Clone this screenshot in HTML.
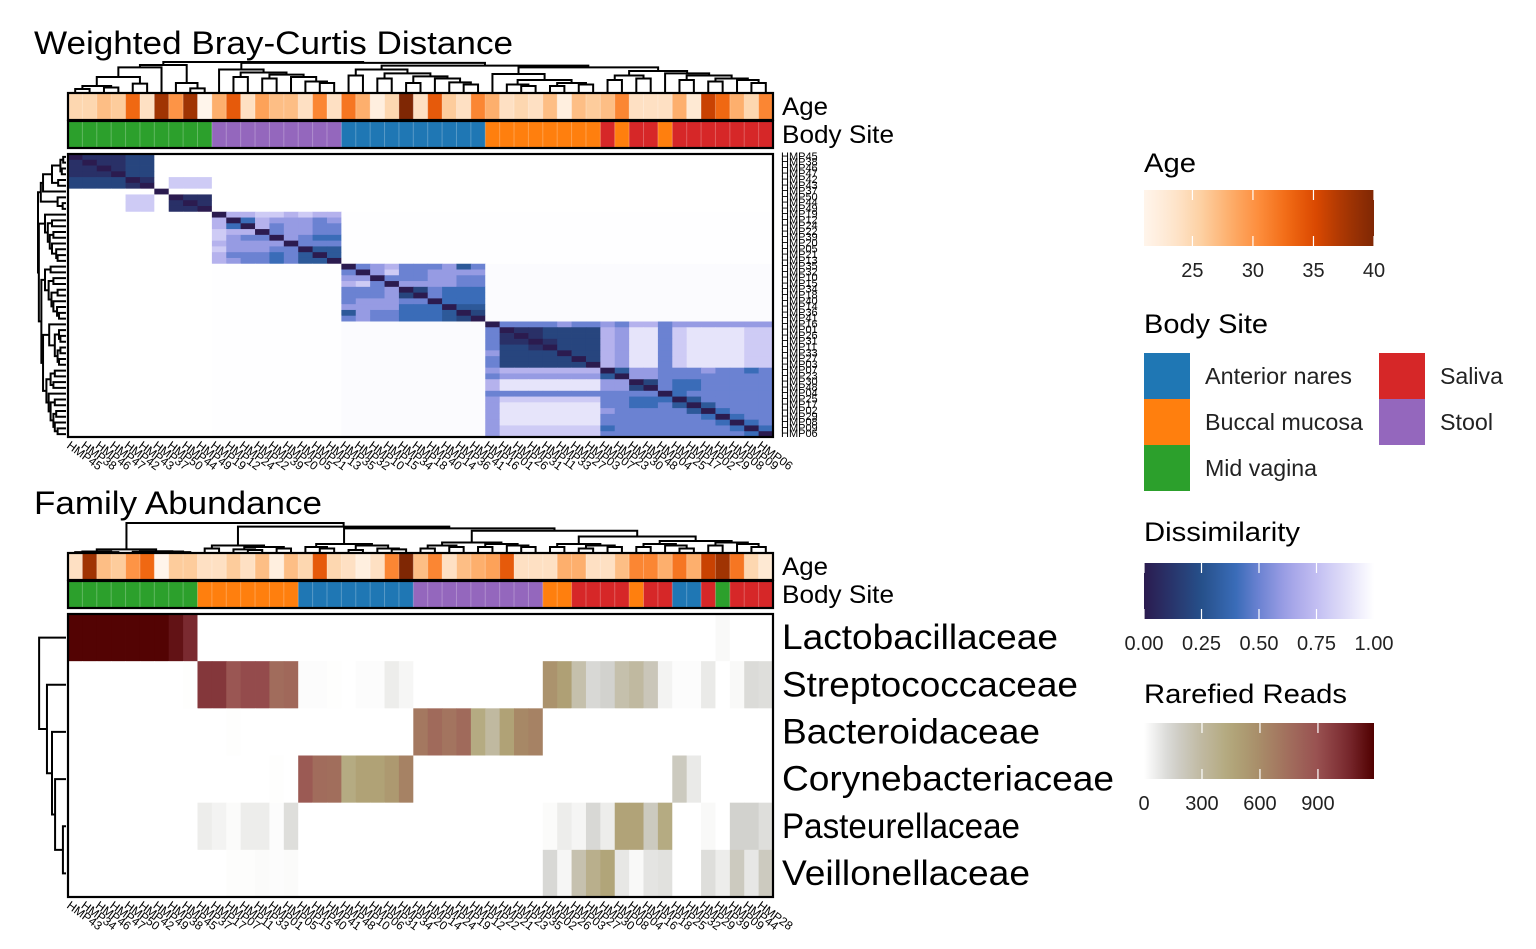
<!DOCTYPE html>
<html><head><meta charset="utf-8"><title>Heatmaps</title>
<style>
html,body{margin:0;padding:0;background:#fff;}
svg{display:block;font-family:"Liberation Sans",Arial,sans-serif;}
</style></head>
<body>
<svg id="chart" width="1536" height="949" viewBox="0 0 1536 949" xmlns="http://www.w3.org/2000/svg">
<rect x="0" y="0" width="1536" height="949" fill="#fff"/>
<text x="34" y="54" font-size="32" textLength="479" lengthAdjust="spacingAndGlyphs">Weighted Bray-Curtis Distance</text>
<text x="34" y="514" font-size="32" textLength="288" lengthAdjust="spacingAndGlyphs">Family Abundance</text>
<g id="top"></g><g id="bottom"></g><g id="legend"></g>
</svg>
<script>
// ---------- DATA ----------
const topSamples = ["HMP45","HMP38","HMP46","HMP47","HMP42","HMP43","HMP37","HMP50","HMP44","HMP49","HMP19","HMP12","HMP24","HMP22","HMP39","HMP20","HMP05","HMP21","HMP13","HMP35","HMP32","HMP10","HMP15","HMP34","HMP18","HMP40","HMP14","HMP36","HMP41","HMP16","HMP01","HMP26","HMP31","HMP11","HMP33","HMP27","HMP03","HMP07","HMP23","HMP30","HMP48","HMP04","HMP25","HMP17","HMP02","HMP29","HMP08","HMP09","HMP06"];
const topSites = "VVVVVVVVVV"+"SSSSSSSSS"+"NNNNNNNNNN"+"OOOOOOOO"+"RORRO"+"RRRRRRR";
const topAges = [25,25,27,26,33,24,38,30,38,21, 28,34,24,29,27,27,24,31,24, 32,28,22,25,40,24,34,26,24,31, 28,24,25,24,27,22,27,26, 27,31,24,24,24,28,23,36,33,28,25,31];
// dissimilarity levels: digit d -> d/10, v -> 0.985, w -> 0.995, x -> 1.0
const distRows = [
"011122xxxx"+"xxxxxxxxx"+"xxxxxxxxxx"+"xxxxxxxxxxxxxxxxxxxx",
"101122xxxx"+"xxxxxxxxx"+"xxxxxxxxxx"+"xxxxxxxxxxxxxxxxxxxx",
"110122xxxx"+"xxxxxxxxx"+"xxxxxxxxxx"+"xxxxxxxxxxxxxxxxxxxx",
"111022xxxx"+"xxxxxxxxx"+"xxxxxxxxxx"+"xxxxxxxxxxxxxxxxxxxx",
"222201x888"+"xxxxxxxxx"+"xxxxxxxxxx"+"xxxxxxxxxxxxxxxxxxxx",
"222210x888"+"xxxxxxxxx"+"xxxxxxxxxx"+"xxxxxxxxxxxxxxxxxxxx",
"xxxxxx0xxx"+"xxxxxxxxx"+"xxxxxxxxxx"+"xxxxxxxxxxxxxxxxxxxx",
"xxxx88x011"+"xxxxxxxxx"+"xxxxxxxxxx"+"xxxxxxxxxxxxxxxxxxxx",
"xxxx88x101"+"xxxxxxxxx"+"xxxxxxxxxx"+"xxxxxxxxxxxxxxxxxxxx",
"xxxx88x110"+"xxxxxxxxx"+"xxxxxxxxxx"+"xxxxxxxxxxxxxxxxxxxx",
"xxxxxxxxxx"+"077887877"+"wwwwwwwwww"+"wwwwwwwwwwwwwwwwwwww",
"xxxxxxxxxx"+"704766656"+"wwwwwwwwww"+"wwwwwwwwwwwwwwwwwwww",
"xxxxxxxxxx"+"740756655"+"wwwwwwwwww"+"wwwwwwwwwwwwwwwwwwww",
"xxxxxxxxxx"+"877056655"+"wwwwwwwwww"+"wwwwwwwwwwwwwwwwwwww",
"xxxxxxxxxx"+"865506544"+"wwwwwwwwww"+"wwwwwwwwwwwwwwwwwwww",
"xxxxxxxxxx"+"766660555"+"wwwwwwwwww"+"wwwwwwwwwwwwwwwwwwww",
"xxxxxxxxxx"+"866655033"+"wwwwwwwwww"+"wwwwwwwwwwwwwwwwwwww",
"xxxxxxxxxx"+"755545303"+"wwwwwwwwww"+"wwwwwwwwwwwwwwwwwwww",
"xxxxxxxxxx"+"765545330"+"wwwwwwwwww"+"wwwwwwwwwwwwwwwwwwww",
"xxxxxxxxxx"+"wwwwwwwww"+"0567555635"+"vvvvvvvvvvvvvvvvvvvv",
"xxxxxxxxxx"+"wwwwwwwww"+"5068556666"+"vvvvvvvvvvvvvvvvvvvv",
"xxxxxxxxxx"+"wwwwwwwww"+"6605556655"+"vvvvvvvvvvvvvvvvvvvv",
"xxxxxxxxxx"+"wwwwwwwww"+"7850666655"+"vvvvvvvvvvvvvvvvvvvv",
"xxxxxxxxxx"+"wwwwwwwww"+"5556025444"+"vvvvvvvvvvvvvvvvvvvv",
"xxxxxxxxxx"+"wwwwwwwww"+"5556205444"+"vvvvvvvvvvvvvvvvvvvv",
"xxxxxxxxxx"+"wwwwwwwww"+"5666550444"+"vvvvvvvvvvvvvvvvvvvv",
"xxxxxxxxxx"+"wwwwwwwww"+"6666444033"+"vvvvvvvvvvvvvvvvvvvv",
"xxxxxxxxxx"+"wwwwwwwww"+"3655444302"+"vvvvvvvvvvvvvvvvvvvv",
"xxxxxxxxxx"+"wwwwwwwww"+"5655444320"+"vvvvvvvvvvvvvvvvvvvv",
"xxxxxxxxxx"+"wwwwwwwww"+"vvvvvvvvvv"+"05555655657756666666",
"xxxxxxxxxx"+"wwwwwwwww"+"vvvvvvvvvv"+"50112222769958999988",
"xxxxxxxxxx"+"wwwwwwwww"+"vvvvvvvvvv"+"51012222769958999988",
"xxxxxxxxxx"+"wwwwwwwww"+"vvvvvvvvvv"+"51101222769958999988",
"xxxxxxxxxx"+"wwwwwwwww"+"vvvvvvvvvv"+"52210222769958999988",
"xxxxxxxxxx"+"wwwwwwwww"+"vvvvvvvvvv"+"62222022769958999988",
"xxxxxxxxxx"+"wwwwwwwww"+"vvvvvvvvvv"+"52222202769958999988",
"xxxxxxxxxx"+"wwwwwwwww"+"vvvvvvvvvv"+"52222220769958999988",
"xxxxxxxxxx"+"wwwwwwwww"+"vvvvvvvvvv"+"67777777036655565545",
"xxxxxxxxxx"+"wwwwwwwww"+"vvvvvvvvvv"+"56666666306655555555",
"xxxxxxxxxx"+"wwwwwwwww"+"vvvvvvvvvv"+"79999999660254455555",
"xxxxxxxxxx"+"wwwwwwwww"+"vvvvvvvvvv"+"79999999662054455555",
"xxxxxxxxxx"+"wwwwwwwww"+"vvvvvvvvvv"+"55555555555504555555",
"xxxxxxxxxx"+"wwwwwwwww"+"vvvvvvvvvv"+"68888888554440355555",
"xxxxxxxxxx"+"wwwwwwwww"+"vvvvvvvvvv"+"69999999554453035555",
"xxxxxxxxxx"+"wwwwwwwww"+"vvvvvvvvvv"+"69999999655555304555",
"xxxxxxxxxx"+"wwwwwwwww"+"vvvvvvvvvv"+"69999999555555540455",
"xxxxxxxxxx"+"wwwwwwwww"+"vvvvvvvvvv"+"69999999555555554045",
"xxxxxxxxxx"+"wwwwwwwww"+"vvvvvvvvvv"+"68888888455555555404",
"xxxxxxxxxx"+"wwwwwwwww"+"vvvvvvvvvv"+"68888888555555555540"];
const topTree = [1.0,
  [0.9,[0.82,[0.5,[0.2,[0.1,0,1],[0.15,2,3]],[0.28,4,5]],6],[0.3,7,[0.12,8,9]]],
  [0.97,
    [0.75,10,[0.65,[0.5,11,12],[0.58,[0.45,13,14],[0.5,15,[0.35,16,[0.3,17,18]]]]]],
    [0.88,
      [0.75,[0.55,19,20],[0.62,[0.45,21,22],[0.52,[0.3,23,24],[0.45,25,[0.32,26,[0.25,27,28]]]]]],
      [0.82,[0.6,29,[0.4,[0.25,30,[0.2,31,32]],[0.3,[0.2,33,34],[0.25,35,36]]]],
            [0.7,[0.55,[0.4,37,38],[0.45,39,40]],[0.62,41,[0.55,[0.4,42,43],[0.45,[0.35,44,45],[0.4,46,[0.3,47,48]]]]]]]]]];

const botSamples = ["HMP43","HMP34","HMP46","HMP47","HMP50","HMP42","HMP49","HMP38","HMP45","HMP37","HMP17","HMP07","HMP11","HMP33","HMP01","HMP05","HMP15","HMP40","HMP41","HMP48","HMP10","HMP06","HMP31","HMP34","HMP20","HMP14","HMP24","HMP19","HMP12","HMP22","HMP21","HMP23","HMP35","HMP02","HMP26","HMP03","HMP27","HMP30","HMP08","HMP04","HMP16","HMP18","HMP25","HMP32","HMP29","HMP39","HMP09","HMP44","HMP28"];
const botSites = "VVVVVVVVVOOOOOOONNNNNNNNSSSSSSSSSOORRRRORRNNRVRRR";
const botAges = [24,38,27,26,30,33,21,26,26, 24,24,26,24,27,22,27, 25,34,25,24,22,24,31,40, 27,31,24,27,28,29,34,24,24, 24,28,28,24,24,27,31,31,28,32,28,36,38,32,25,23];
const families = ["Lactobacillaceae","Streptococcaceae","Bacteroidaceae","Corynebacteriaceae","Pasteurellaceae","Veillonellaceae"];
const lacto = [1180,1180,1180,1180,1180,1180,1180,1130,1050, 0,0,0,0,0,0,0, 0,0,0,0,0,0,0,0, 0,0,0,0,0,0,0,0,0, 0,0,0,0,0,0,0,0,0,0,0,0,20,0,0,0];
const strep = [0,0,0,0,0,0,0,0,5, 1000,1000,870,920,920,760,780, 10,10,5,0,10,10,60,30, 0,0,0,0,0,0,0,0,0, 560,490,260,130,150,260,300,220,40,10,10,70,0,20,120,110];
const bact  = [0,0,0,0,0,0,0,0,0, 0,0,5,0,0,0,0, 0,0,0,0,0,0,0,0, 700,770,720,770,420,300,480,620,650, 0,0,0,0,0,0,0,0,0,0,0,0,0,0,0,0];
const cory  = [0,0,0,0,0,0,0,0,0, 0,0,0,0,0,5,0, 850,760,750,420,480,480,530,650, 0,0,0,0,0,0,0,0,0, 0,0,0,0,0,0,0,0,0,200,70,0,0,0,0,0];
const past  = [0,0,0,0,0,0,0,0,0, 60,40,15,60,60,10,110, 0,0,0,0,0,0,0,0, 0,0,0,0,0,0,0,0,0, 15,60,35,130,60,470,470,200,420,0,0,20,0,150,150,110];
const veill = [0,0,0,0,0,0,0,0,0, 0,0,8,8,15,10,15, 0,0,0,0,0,0,0,0, 0,0,0,0,0,0,0,0,0, 130,30,250,380,460,80,20,90,100,0,0,110,60,200,80,200];
const botTree = [1.0,
  [0.12,[0.05,[0.03,0,1],[0.03,2,3]],[0.06,[0.04,4,5],[0.05,6,[0.03,7,8]]]],
  [0.88,[0.25,[0.15,9,10],[0.2,[0.12,11,[0.1,12,13]],[0.15,14,15]]],
    [0.82,[0.3,[0.2,16,[0.15,17,18]],[0.25,[0.1,19,20],[0.15,21,[0.12,22,23]]]],
      [0.74,[0.35,[0.25,[0.15,24,25],[0.2,26,27]],[0.3,[0.2,28,29],[0.25,30,[0.2,31,32]]]],
        [0.55,[0.3,[0.2,33,34],[0.25,[0.15,35,36],[0.2,37,38]]],[0.4,[0.3,[0.2,39,40],[0.25,41,[0.15,42,43]]],[0.35,[0.25,44,45],[0.3,46,[0.2,47,48]]]]]]]]];
const rowTree = [0.96,0,[0.68,1,[0.5,2,[0.39,3,[0.11,4,5]]]]];
const ageTicks = [25,30,35,40];
const dissTicks = ["0.00","0.25","0.50","0.75","1.00"];
const readTicks = [0,300,600,900];

// ---------- helpers ----------
const NS="http://www.w3.org/2000/svg";
function mk(tag,attrs,parent){const e=document.createElementNS(NS,tag);for(const k in attrs)e.setAttribute(k,attrs[k]);parent.appendChild(e);return e;}
function hex(h){return [parseInt(h.substr(1,2),16),parseInt(h.substr(3,2),16),parseInt(h.substr(5,2),16)];}
function ramp(stops){return v=>{if(v<=stops[0][0])return stops[0][1];for(let i=1;i<stops.length;i++){if(v<=stops[i][0]){const a=stops[i-1],b=stops[i];const t=(v-a[0])/(b[0]-a[0]);const c1=hex(a[1]),c2=hex(b[1]);return "rgb("+c1.map((c,j)=>Math.round(c+(c2[j]-c)*t)).join(",")+")";}}return stops[stops.length-1][1];};}
const ageColor=ramp([[21,"#fff5eb"],[23.4,"#fee6ce"],[25.75,"#fdd0a2"],[28.1,"#fdae6b"],[30.5,"#fd8d3c"],[32.9,"#f16913"],[35.25,"#d94801"],[37.6,"#a63603"],[40,"#7f2704"]]);
const dissColor=ramp([[0,"#2b1b4f"],[0.25,"#26508a"],[0.4,"#3a6cb8"],[0.5,"#6b82d2"],[0.62,"#9fa0e6"],[0.75,"#c2bef2"],[0.9,"#e6e4fa"],[1,"#ffffff"]]);
const readColor=ramp([[0,"#ffffff"],[150,"#d2d2ce"],[300,"#c0b9a0"],[450,"#b2a77a"],[600,"#a88c68"],[780,"#a0685a"],[900,"#985050"],[1050,"#7a2a30"],[1190,"#500000"]]);
const siteColor={N:"#1F77B4",O:"#FF7F0E",V:"#2CA02C",R:"#D62728",S:"#9467BD"};
function lvl(c){return c==="x"?1:c==="w"?0.995:c==="v"?0.985:(+c)/10;}

function dendro(node,g,posOf,hy,name){
  if(typeof node==="number")return [posOf(node),0];
  const a=dendro(node[1],g,posOf,hy,name),b=dendro(node[2],g,posOf,hy,name);
  const h=node[0];
  const p=hy(a[0],a[1],b[0],b[1],h);
  const path=mk("path",{d:p,fill:"none",stroke:"#000","stroke-width":2},g);
  
  
  return [(a[0]+b[0])/2,h];
}

const X0=68,X1=773,N=49,CW=(X1-X0)/N;
const colX=i=>X0+i*CW;

function panel(gid,o){
  const g=document.getElementById(gid);
  const dg=mk("g",{},g);
  const yL=o.dTop+30,yS=30;
  const Y=h=>yL-h*yS;
  dendro(o.tree,dg,i=>colX(i)+CW/2,(x1,h1,x2,h2,h)=>`M${x1},${Y(h1)}V${Y(h)}H${x2}V${Y(h2)}`,'dendrogram-branch');
  const ag=mk("g",{},g);
  o.ages.forEach((a,i)=>{const r=mk("rect",{x:colX(i),y:o.ageY,width:CW+0.4,height:27,fill:ageColor(a)},ag);
    });
  const sg=mk("g",{},g);
  o.sites.split("").forEach((s,i)=>{const r=mk("rect",{x:colX(i),y:o.ageY+28,width:CW+0.4,height:27,fill:siteColor[s]},sg);
    });
  for(let i=1;i<N;i++){mk("line",{x1:colX(i),x2:colX(i),y1:o.ageY,y2:o.ageY+55,stroke:"#fff","stroke-opacity":0.25,"stroke-width":1},g);}
  mk("rect",{x:X0,y:o.ageY,width:X1-X0,height:27,fill:"none",stroke:"#000","stroke-width":2.2},g);
  mk("rect",{x:X0,y:o.ageY+28,width:X1-X0,height:27,fill:"none",stroke:"#000","stroke-width":2.2},g);
  let t=mk("text",{x:782,y:o.ageY+22,"font-size":25,textLength:46,lengthAdjust:"spacingAndGlyphs"},g);t.textContent="Age";
  
  t=mk("text",{x:782,y:o.ageY+50,"font-size":25,textLength:112,lengthAdjust:"spacingAndGlyphs"},g);t.textContent="Body Site";
  
  const hg=mk("g",{},g);
  const RH=(o.hY1-o.hY0)/o.nRows;
  for(let r=0;r<o.nRows;r++)for(let c=0;c<N;c++){
    const rc=mk("rect",{x:colX(c),y:o.hY0+r*RH,width:CW+0.4,height:RH+0.4,fill:o.cellColor(r,c)},hg);
    
  }
  mk("rect",{x:X0,y:o.hY0,width:X1-X0,height:o.hY1-o.hY0,fill:"none",stroke:"#000","stroke-width":2.2},g);
  const rg=mk("g",{},g);
  const XL=66,XS=28,Xh=h=>XL-h*XS;
  dendro(o.rowTree,rg,i=>o.hY0+(i+0.5)*RH,(y1,h1,y2,h2,h)=>`M${Xh(h1)},${y1}H${Xh(h)}V${y2}H${Xh(h2)}`,'dendrogram-branch');
  o.rowLabels.forEach((lab,i)=>{const tt=mk("text",{x:o.rowLabX,y:o.hY0+(i+0.5)*RH,"font-size":o.rowFont,"dominant-baseline":"central"},g);
    if(o.rowLen)tt.setAttribute("textLength",o.rowLen[i]),tt.setAttribute("lengthAdjust","spacingAndGlyphs");
    tt.textContent=lab;});
  o.colLabels.forEach((lab,i)=>{const cx=colX(i)+CW/2-4;const tt=mk("text",{x:0,y:0,"font-size":12,transform:`translate(${cx},${o.hY1+3}) rotate(36)`,"dominant-baseline":"hanging"},g);
    tt.textContent=lab;});
}

panel("top",{prefix:"top-",tree:topTree,rowTree:topTree,dTop:62,ageY:93,ages:topAges,sites:topSites,hY0:154,hY1:437,nRows:49,
  cellColor:(r,c)=>dissColor(lvl(distRows[r][c])),rowLabels:topSamples,rowLabX:781,rowFont:11,colLabels:topSamples});
const famVals=[lacto,strep,bact,cory,past,veill];
panel("bottom",{prefix:"bottom-",tree:botTree,rowTree:rowTree,dTop:523,ageY:553,ages:botAges,sites:botSites,hY0:614,hY1:897,nRows:6,
  cellColor:(r,c)=>readColor(famVals[r][c]),rowLabels:families,rowLabX:782,rowFont:35,rowLen:[276,296,258,332,238,248],colLabels:botSamples});

// ---------- legends ----------
const L=document.getElementById("legend");
const LX0=1144,LX1=1374;
function title(txt,y,w,name){const t=mk("text",{x:LX0,y:y,"font-size":27,textLength:w,lengthAdjust:"spacingAndGlyphs"},L);t.textContent=txt;}
function gradBar(id,y,fn,lo,hi,ticks,tickVal,name){
  const gr=mk("linearGradient",{id:id,x1:0,x2:1,y1:0,y2:0},mk("defs",{},L));
  for(let i=0;i<=20;i++){mk("stop",{offset:(i/20),"stop-color":fn(lo+(hi-lo)*i/20)},gr);}
  const r=mk("rect",{x:LX0,y:y,width:LX1-LX0,height:56,fill:`url(#${id})`},L);
  
  ticks.forEach(tk=>{const v=tickVal(tk);const x=LX0+(v-lo)/(hi-lo)*(LX1-LX0);
    mk("line",{x1:x,x2:x,y1:y,y2:y+10,stroke:"#fff","stroke-width":1.2},L);
    mk("line",{x1:x,x2:x,y1:y+46,y2:y+56,stroke:"#fff","stroke-width":1.2},L);
    const t=mk("text",{x:x,y:y+87,"font-size":20,"text-anchor":"middle",fill:"#222"},L);t.textContent=tk;
    });
}
title("Age",172,52,"age-legend-title");
gradBar("gAge",190,ageColor,21,40,ageTicks,v=>v,"age-colorbar");
title("Body Site",333,124,"body-site-legend-title");
const siteEntries=[["N","Anterior nares",1144,353,147],["O","Buccal mucosa",1144,399,158],["V","Mid vagina",1144,445,112],["R","Saliva",1379,353,63],["S","Stool",1379,399,53]];
siteEntries.forEach(e=>{const r=mk("rect",{x:e[2],y:e[3],width:46,height:46,fill:siteColor[e[0]]},L);
  
  const t=mk("text",{x:e[2]+61,y:e[3]+31,"font-size":23,fill:"#222",textLength:e[4],lengthAdjust:"spacingAndGlyphs"},L);t.textContent=e[1];
  });
title("Dissimilarity",541,156,"dissimilarity-legend-title");
gradBar("gDiss",563,dissColor,0,1,dissTicks,v=>+v,"dissimilarity-colorbar");
title("Rarefied Reads",703,203,"rarefied-reads-legend-title");
gradBar("gRead",723,readColor,0,1190,readTicks,v=>v,"rarefied-reads-colorbar");
</script>
</body></html>
